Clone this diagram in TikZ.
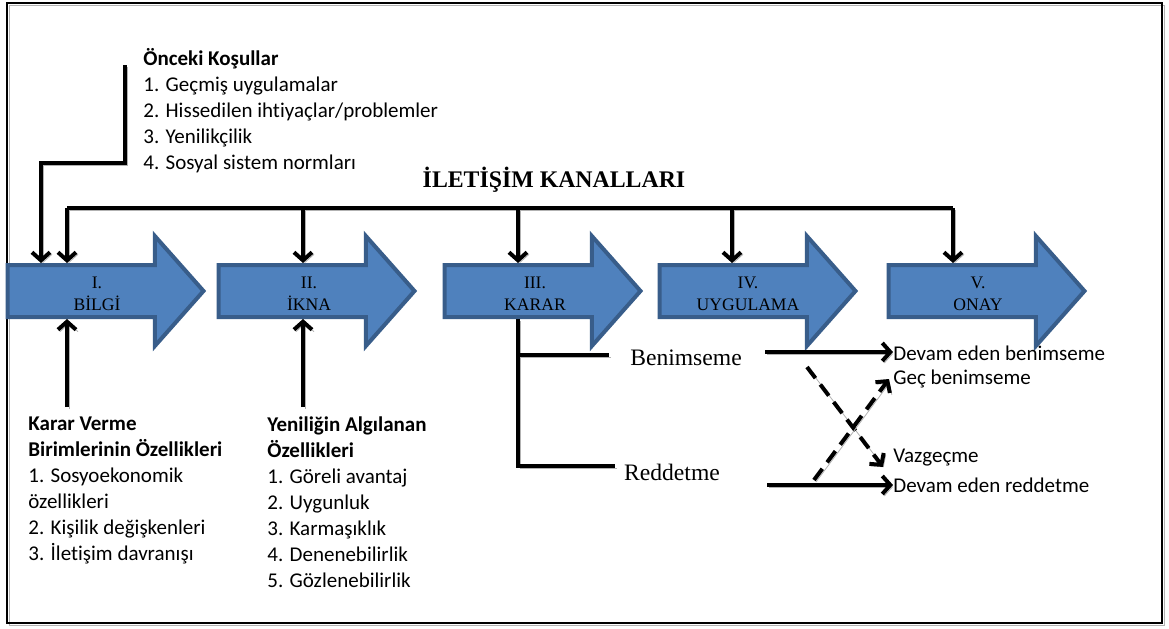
\documentclass[tikz,border=0pt]{standalone}
\usepackage{fontspec}
\setmainfont{Liberation Serif}
\newfontfamily\calfont[Ligatures=NoCommon]{Carlito}
\usetikzlibrary{arrows.meta,shapes.arrows}

\definecolor{stagefill}{HTML}{4F81BD}
\definecolor{stageborder}{HTML}{385D8A}

\tikzset{
  stage/.style={single arrow, draw=stageborder, fill=stagefill, line width=2pt,
    minimum height=98pt, minimum width=53pt, single arrow head extend=14.5pt,
    single arrow tip angle=97, inner xsep=0pt, inner ysep=12pt, line join=miter},
  stagelbl/.style={font=\fontsize{8.8}{11}\selectfont, align=center, inner sep=0pt},
  bodytxt/.style={font=\calfont\fontsize{10.5}{13}\selectfont, align=left,
    inner sep=0pt, anchor=north west},
  righttxt/.style={font=\calfont\fontsize{10.5}{13}\selectfont, inner sep=0pt, anchor=west},
  choice/.style={font=\fontsize{11.8}{14}\selectfont, inner sep=0pt},
  conn/.style={line width=2pt,
    preaction={draw=black!30, transform canvas={shift={(1pt,-1pt)}}}},
}

\begin{document}
\begin{tikzpicture}[x=0.5pt, y=-0.5pt, >={Straight Barb[length=4pt,width=9pt]}]

  \useasboundingbox (0,0) rectangle (1169,628);

  % ===== 枠 =====
  \draw[line width=1pt, preaction={draw=black!30, transform canvas={shift={(1pt,-1pt)}}}]
  (7,3) rectangle (1162,623);

  % ===== 段階 =====
  \node[stage] (arrI)   at (94,291)  {};
  \node[stage] (arrII)  at (305,291) {};
  \node[stage] (arrIII) at (531,291) {};
  \node[stage] (arrIV)  at (746,291) {};
  \node[stage] (arrV)   at (975,291) {};

  \node[stagelbl] (lblI)   at (97,294)  {I.\\BİLGİ};
  \node[stagelbl] (lblII)  at (309,294) {II.\\İKNA};
  \node[stagelbl] (lblIII) at (535,294) {III.\\KARAR};
  \node[stagelbl] (lblIV)  at (748,294) {IV.\\UYGULAMA};
  \node[stagelbl] (lblV)   at (978,294) {V.\\ONAY};

  % ===== iletişim kanalları =====
  \node[font=\bfseries\fontsize{11.9}{14}\selectfont, inner sep=0pt] (kanal)
  at (554,180) {İLETİŞİM KANALLARI};

  \coordinate (ch1) at (67,208);
  \coordinate (ch2) at (303,208);
  \coordinate (ch3) at (518,208);
  \coordinate (ch4) at (732,208);
  \coordinate (ch5) at (953,208);

  \draw[conn] (ch1) -- (ch5);
  \draw[conn,->] (ch1) -- (ch1 |- arrI.90);
  \draw[conn,->] (ch2) -- (ch2 |- arrII.90);
  \draw[conn,->] (ch3) -- (ch3 |- arrIII.90);
  \draw[conn,->] (ch4) -- (ch4 |- arrIV.90);
  \draw[conn,->] (ch5) -- (ch5 |- arrV.90);

  % ===== önceki koşullar =====
  \node[bodytxt] (onceki) at (143,48)
  {\textbf{Önceki Koşullar}\\1. Geçmiş uygulamalar\\2. Hissedilen ihtiyaçlar/problemler\\3. Yenilikçilik\\4. Sosyal sistem normları};

  \coordinate (onTop)  at (125,65);
  \coordinate (onMid)  at (125,163);
  \coordinate (onLeft) at (41,163);
  \draw[conn,->] (onTop) -- (onMid) -- (onLeft) -- (onLeft |- arrI.90);

  % ===== özellikler =====
  \node[bodytxt] (birim) at (28,416)
  {\textbf{Karar Verme}\\\textbf{Birimlerinin Özellikleri}\\1. Sosyoekonomik\\özellikleri\\2. Kişilik değişkenleri\\3. İletişim davranışı};

  \node[bodytxt] (yenilik) at (267,416)
  {\textbf{Yeniliğin Algılanan}\\\textbf{Özellikleri}\\1. Göreli avantaj\\2. Uygunluk\\3. Karmaşıklık\\4. Denenebilirlik\\5. Gözlenebilirlik};

  \coordinate (upI)  at (67,407);
  \coordinate (upII) at (303,407);
  \draw[conn,->] (upI) -- (upI |- arrI.270);
  \draw[conn,->] (upII) -- (upII |- arrII.270);

  % ===== karar =====
  \node[choice] (benim) at (686,358) {Benimseme};
  \node[choice] (redd)  at (672,472) {Reddetme};

  \coordinate (kd)   at (518,466);
  \coordinate (bEnd) at (609,355);
  \coordinate (rEnd) at (615,466);
  \draw[conn] (kd |- arrIII.270) -- (kd) -- (rEnd);
  \draw[conn] (kd |- bEnd) -- (bEnd);

  % ===== sonuçlar =====
  \node[righttxt] (devB) at (893,353) {Devam eden benimseme};
  \node[righttxt] (gecB) at (893,379) {Geç benimseme};
  \node[righttxt] (vaz)  at (893,458) {Vazgeçme};
  \node[righttxt] (devR) at (893,485) {Devam eden reddetme};

  \coordinate (bStart) at (765,352);
  \coordinate (rStart) at (767,485);
  \coordinate (dA) at (807,367);
  \coordinate (dB) at (814,480);

  \draw[conn,->] (bStart) -- (bStart -| devB.west);
  \draw[conn,->] (rStart) -- (rStart -| devR.west);
  \draw[conn,->,dash pattern=on 7pt off 4pt] (dA) -- ([xshift=-5pt]vaz.south west);
  \draw[conn,->,dash pattern=on 7pt off 4pt] (dB) -- ([xshift=-2pt]gecB.west);

\end{tikzpicture}
\end{document}
